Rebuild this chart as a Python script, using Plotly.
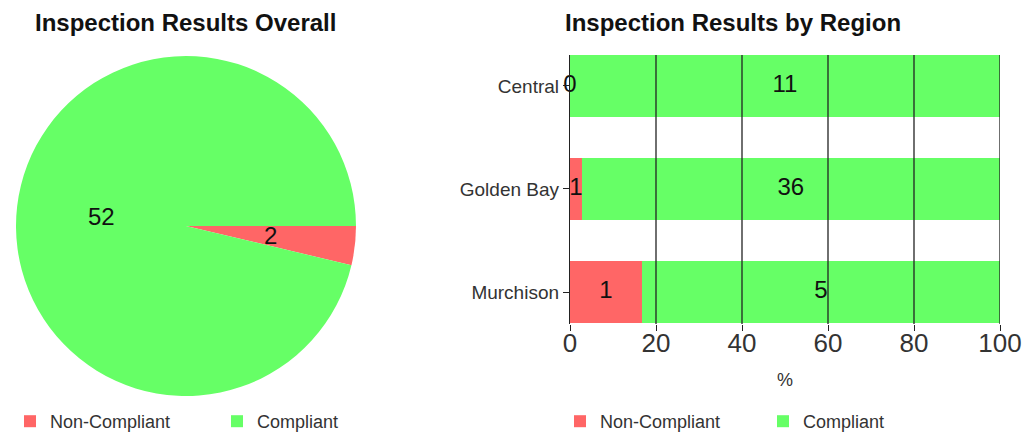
import math
import plotly.graph_objects as go

# Inspection counts
status = ["Non-Compliant", "Compliant"]
overall_counts = [2, 52]

regions = ["Central", "Golden Bay", "Murchison"]
non_compliant = [0, 1, 1]
compliant = [11, 36, 5]

pct_ticks = [0, 20, 40, 60, 80, 100]

RED = "#FF6666"
GREEN = "#66FF66"
FONT = "Liberation Sans, Arial, sans-serif"
LABEL_FONT = dict(size=24, color="#111", family=FONT)

W, H = 1025, 440


def px_x(p):
    return p / W


def px_y(p):
    return 1 - p / H


# Pie geometry (pixels)
PIE_CX, PIE_CY, PIE_R = 186, 226, 170

# Percentage shares per region
totals = [a + b for a, b in zip(non_compliant, compliant)]
nc_pct = [100 * a / t for a, t in zip(non_compliant, totals)]
c_pct = [100 * b / t for b, t in zip(compliant, totals)]

fig = go.Figure()

fig.add_trace(go.Pie(
    labels=status,
    values=overall_counts,
    marker=dict(colors=[RED, GREEN]),
    sort=False,
    direction="clockwise",
    rotation=90,
    textinfo="none",
    domain=dict(x=[px_x(PIE_CX - PIE_R), px_x(PIE_CX + PIE_R)],
                y=[px_y(PIE_CY + PIE_R), px_y(PIE_CY - PIE_R)]),
    legend="legend",
    hoverinfo="label+value",
))

fig.add_trace(go.Bar(
    y=regions, x=nc_pct, orientation="h", name="Non-Compliant",
    marker=dict(color=RED, line=dict(width=0)), width=0.6,
    xaxis="x", yaxis="y", legend="legend2",
))
fig.add_trace(go.Bar(
    y=regions, x=c_pct, base=nc_pct, orientation="h", name="Compliant",
    marker=dict(color=GREEN, line=dict(width=0)), width=0.6,
    xaxis="x", yaxis="y", legend="legend2",
))

# Count labels at the middle of each segment
fig.add_trace(go.Scatter(
    y=regions, x=[p / 2 for p in nc_pct], mode="text",
    text=[str(v) for v in non_compliant], textfont=LABEL_FONT,
    showlegend=False, hoverinfo="skip", cliponaxis=False,
))
fig.add_trace(go.Scatter(
    y=regions, x=[a + b / 2 for a, b in zip(nc_pct, c_pct)], mode="text",
    text=[str(v) for v in compliant], textfont=LABEL_FONT,
    showlegend=False, hoverinfo="skip", cliponaxis=False,
))

# Pie value labels halfway out along each slice's mid angle
annotations = []
total = sum(overall_counts)
start = 0.0
for v in overall_counts:
    mid = math.radians((start + v / 2) / total * 360)  # clockwise from 3 o'clock
    start += v
    lx = PIE_CX + 0.5 * PIE_R * math.cos(mid)
    ly = PIE_CY + 0.5 * PIE_R * math.sin(mid)
    annotations.append(dict(text=str(v), x=px_x(lx), y=px_y(ly),
                            xref="paper", yref="paper", showarrow=False,
                            xanchor="center", yanchor="middle", font=LABEL_FONT))

TITLE_FONT = dict(size=24, color="#111", family=FONT, weight="bold")
annotations += [
    dict(text="Inspection Results Overall", x=px_x(185), y=px_y(23),
         xref="paper", yref="paper", showarrow=False,
         xanchor="center", yanchor="middle", font=TITLE_FONT),
    dict(text="Inspection Results by Region", x=px_x(733), y=px_y(23),
         xref="paper", yref="paper", showarrow=False,
         xanchor="center", yanchor="middle", font=TITLE_FONT),
]

# Vertical grid lines drawn over the bars
shapes = [
    dict(type="line", xref="x", yref="y domain", x0=t, x1=t, y0=0, y1=1,
         line=dict(color="#222", width=1.3), layer="above")
    for t in pct_ticks[1:]
]

fig.update_layout(
    width=W, height=H,
    margin=dict(l=0, r=0, t=0, b=0),
    paper_bgcolor="white", plot_bgcolor="white",
    font=dict(family=FONT, color="#333"),
    barmode="stack",
    shapes=shapes,
    annotations=annotations,
    xaxis=dict(
        domain=[px_x(570), px_x(1000)], range=[0, 100],
        tickvals=pct_ticks, ticks="outside", ticklen=6, tickcolor="#222",
        tickfont=dict(size=26, color="#333"), ticklabelstandoff=-10,
        showgrid=False, zeroline=False, showline=False, automargin=False,
        title=dict(text="%", font=dict(size=18, color="#333"), standoff=16),
        anchor="y",
    ),
    yaxis=dict(
        domain=[px_y(324), px_y(55)],
        categoryorder="array", categoryarray=regions[::-1],
        range=[-0.31, 2.3],
        ticks="outside", ticklen=6, tickcolor="#222",
        tickfont=dict(size=19, color="#333"),
        showline=True, linecolor="#222", linewidth=1.3,
        showgrid=False, zeroline=False, layer="above traces", automargin=False,
        anchor="x",
    ),
    legend=dict(
        orientation="h", x=px_x(10), y=0, xanchor="left", yanchor="bottom",
        font=dict(size=18, color="#333"), entrywidth=162, traceorder="normal",
        bgcolor="rgba(0,0,0,0)",
    ),
    legend2=dict(
        orientation="h", x=px_x(560), y=0, xanchor="left", yanchor="bottom",
        font=dict(size=18, color="#333"), entrywidth=158, traceorder="normal",
        bgcolor="rgba(0,0,0,0)",
    ),
)

fig.write_html("out.html")
